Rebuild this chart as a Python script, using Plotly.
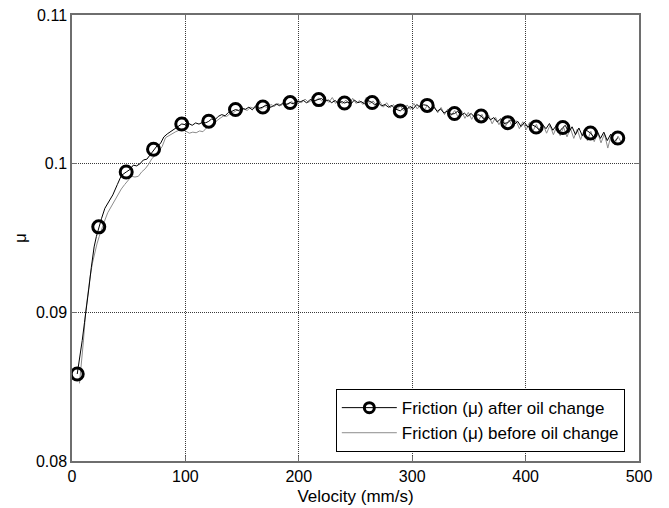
import plotly.graph_objects as go

# Friction coefficient vs. sliding velocity, after the oil change (black, with markers)
after_v = [4.6, 7, 9, 11, 13, 15, 17, 19.5, 21.5, 23.6, 26, 29, 32, 36, 40, 43.5, 47.8,
           51, 54, 57, 60, 63, 66, 69, 71.9, 75, 78, 81, 84, 87, 90, 93, 96.8,
           100, 103, 106, 109, 112, 115, 118, 120.6, 123, 126, 129, 132, 135, 138, 141, 144.2,
           147, 150, 153, 156, 159, 162, 165, 168.3, 171, 174, 177, 180, 183, 186, 189, 192.4,
           195, 198, 201, 204, 207, 210, 213, 217.6, 220, 223, 226, 229, 232, 235, 238, 240.3,
           243, 246, 249, 252, 255, 258, 261, 264.7, 267, 270, 273, 276, 279, 282, 285, 289.5,
           292, 295, 298, 301, 304, 307, 310, 313.2, 316, 319, 322, 325, 328, 331, 334, 337.3,
           340, 343, 346, 349, 352, 355, 358, 360.8, 363, 366, 369, 372, 375, 378, 381, 384.3,
           387, 390, 393, 396, 399, 402, 405, 409.3, 412, 415, 418, 421, 424, 427, 430, 432.8,
           435, 438, 441, 444, 447, 450, 453, 457.2, 460, 463, 466, 469, 472, 475, 478, 481.3]
after_mu = [0.08585, 0.0870, 0.0881, 0.0893, 0.0904, 0.0917, 0.0930, 0.0944, 0.0951, 0.09575,
            0.0963, 0.0970, 0.0974, 0.0979, 0.0986, 0.0992, 0.09944,
            0.09960, 0.09990, 0.09985, 0.10000, 0.10025, 0.10030, 0.10060, 0.10097,
            0.10120, 0.10135, 0.10180, 0.10200, 0.10215, 0.10230, 0.10245, 0.10267,
            0.10262, 0.10270, 0.10258, 0.10274, 0.10266, 0.10278, 0.10275, 0.10285,
            0.10300, 0.10295, 0.10318, 0.10330, 0.10322, 0.10345, 0.10352, 0.10364,
            0.10358, 0.10372, 0.10366, 0.10380, 0.10362, 0.10390, 0.10372, 0.10381,
            0.10394, 0.10378, 0.10385, 0.10402, 0.10390, 0.10408, 0.10398, 0.10411,
            0.10402, 0.10420, 0.10414, 0.10426, 0.10408, 0.10432, 0.10422, 0.10431,
            0.10438, 0.10420, 0.10428, 0.10410, 0.10425, 0.10405, 0.10418, 0.10408,
            0.10415, 0.10402, 0.10428, 0.10410, 0.10418, 0.10402, 0.10425, 0.10411,
            0.10395, 0.10412, 0.10388, 0.10398, 0.10380, 0.10392, 0.10368, 0.10355,
            0.10372, 0.10362, 0.10385, 0.10370, 0.10398, 0.10380, 0.10396, 0.10392,
            0.10370, 0.10382, 0.10352, 0.10368, 0.10340, 0.10355, 0.10332, 0.10337,
            0.10352, 0.10325, 0.10340, 0.10318, 0.10338, 0.10312, 0.10330, 0.10321,
            0.10300, 0.10322, 0.10295, 0.10310, 0.10280, 0.10302, 0.10270, 0.10276,
            0.10295, 0.10262, 0.10285, 0.10250, 0.10278, 0.10245, 0.10265, 0.10247,
            0.10228, 0.10262, 0.10235, 0.10270, 0.10225, 0.10255, 0.10218, 0.10243,
            0.10258, 0.10210, 0.10248, 0.10195, 0.10240, 0.10188, 0.10228, 0.10206,
            0.10180, 0.10222, 0.10170, 0.10212, 0.10155, 0.10198, 0.10148, 0.10173]

# Sampled points shown with circle markers on the "after" curve
marker_v = [4.6, 23.6, 47.8, 71.9, 96.8, 120.6, 144.2, 168.3, 192.4, 217.6, 240.3,
            264.7, 289.5, 313.2, 337.3, 360.8, 384.3, 409.3, 432.8, 457.2, 481.3]
marker_mu = [0.08585, 0.09575, 0.09944, 0.10097, 0.10267, 0.10285, 0.10364, 0.10381,
             0.10411, 0.10431, 0.10408, 0.10411, 0.10355, 0.10392, 0.10337, 0.10321,
             0.10276, 0.10247, 0.10243, 0.10206, 0.10173]

# Friction coefficient before the oil change (grey)
before_v = [6.6, 8, 10, 12, 14, 16, 18, 20, 22, 24, 26,
            28.5, 31.5, 34.5, 37.5, 40.5, 43.5, 46.5, 49.5, 52.5, 55.5, 58.5, 61.5, 64.5,
            67.5, 70.5, 73.5, 76.5, 79.5, 82.5, 85.5, 88.5, 91.5, 94.5, 97.5, 100.5, 103.5,
            106.5, 109.5, 112.5, 115.5, 118.5, 121.5, 124.5, 127.5, 130.5, 133.5, 136.5,
            139.5, 142.5, 145.5, 148.5, 151.5, 154.5, 157.5, 160.5, 163.5, 166.5, 169.5,
            172.5, 175.5, 178.5, 181.5, 184.5, 187.5, 190.5, 193.5, 196.5, 199.5, 202.5,
            205.5, 208.5, 211.5, 214.5, 217.5, 220.5, 223.5, 226.5, 229.5, 232.5, 235.5,
            238.5, 241.5, 244.5, 247.5, 250.5, 253.5, 256.5, 259.5, 262.5, 265.5, 268.5,
            271.5, 274.5, 277.5, 280.5, 283.5, 286.5, 289.5, 292.5, 295.5, 298.5, 301.5,
            304.5, 307.5, 310.5, 313.5, 316.5, 319.5, 322.5, 325.5, 328.5, 331.5, 334.5,
            337.5, 340.5, 343.5, 346.5, 349.5, 352.5, 355.5, 358.5, 361.5, 364.5, 367.5,
            370.5, 373.5, 376.5, 379.5, 382.5, 385.5, 388.5, 391.5, 394.5, 397.5, 400.5,
            403.5, 406.5, 409.5, 412.5, 415.5, 418.5, 421.5, 424.5, 427.5, 430.5, 433.5,
            436.5, 439.5, 442.5, 445.5, 448.5, 451.5, 454.5, 457.5, 460.5, 463.5, 466.5,
            469.5, 472.5, 475.5, 478.5, 481.5, 484.5]
before_mu = [0.08522, 0.0862, 0.0880, 0.0900, 0.0913, 0.0924, 0.0933, 0.0940, 0.0946, 0.0951, 0.0956,
             0.0961, 0.0967, 0.0971, 0.0975, 0.0979, 0.0983, 0.0986, 0.0989, 0.09915, 0.09910,
             0.09915, 0.09945, 0.09965, 0.09995, 0.10035, 0.10055, 0.10085, 0.10115, 0.10175,
             0.10190, 0.10205, 0.10215, 0.10225, 0.10232, 0.10218, 0.10205, 0.10212, 0.10208,
             0.10220, 0.10215, 0.10240, 0.10251, 0.10270, 0.10290, 0.10305, 0.10320, 0.10318,
             0.10338, 0.10345, 0.10360, 0.10350, 0.10368, 0.10358, 0.10380, 0.10372, 0.10390,
             0.10365, 0.10385, 0.10378, 0.10398, 0.10385, 0.10405, 0.10392, 0.10410, 0.10398,
             0.10418, 0.10402, 0.10425, 0.10410, 0.10435, 0.10412, 0.10428, 0.10418, 0.10442,
             0.10420, 0.10436, 0.10412, 0.10445, 0.10405, 0.10430, 0.10402, 0.10428, 0.10398,
             0.10440, 0.10405, 0.10425, 0.10398, 0.10445, 0.10402, 0.10422, 0.10392, 0.10418,
             0.10380, 0.10410, 0.10375, 0.10398, 0.10362, 0.10390, 0.10355, 0.10395, 0.10365,
             0.10405, 0.10368, 0.10400, 0.10360, 0.10392, 0.10350, 0.10385, 0.10342, 0.10378,
             0.10330, 0.10368, 0.10325, 0.10358, 0.10312, 0.10355, 0.10305, 0.10345, 0.10298,
             0.10340, 0.10290, 0.10332, 0.10282, 0.10325, 0.10268, 0.10312, 0.10262, 0.10305,
             0.10255, 0.10295, 0.10245, 0.10290, 0.10235, 0.10282, 0.10228, 0.10278, 0.10220,
             0.10265, 0.10210, 0.10262, 0.10205, 0.10258, 0.10195, 0.10250, 0.10188, 0.10245,
             0.10180, 0.10238, 0.10170, 0.10232, 0.10162, 0.10225, 0.10155, 0.10218, 0.10148,
             0.10210, 0.10140, 0.10200, 0.10105, 0.10195, 0.10128, 0.10185, 0.10140]

x_ticks = [0, 100, 200, 300, 400, 500]
y_ticks = [0.08, 0.09, 0.10, 0.11]
y_tick_text = ["0.08", "0.09", "0.1", "0.11"]

FONT = "Liberation Sans, Arial, Helvetica, sans-serif"

fig = go.Figure()

fig.add_trace(go.Scatter(
    x=before_v, y=before_mu, mode="lines",
    line=dict(color="#8c8c8c", width=1),
    showlegend=False, legendgroup="before",
))
fig.add_trace(go.Scatter(
    x=after_v, y=after_mu, mode="lines",
    line=dict(color="black", width=1),
    showlegend=False, legendgroup="after",
))
fig.add_trace(go.Scatter(
    x=marker_v, y=marker_mu, mode="markers",
    marker=dict(symbol="circle-open", size=12, color="black", line=dict(width=3, color="black")),
    showlegend=False, legendgroup="after",
))
# legend entries
fig.add_trace(go.Scatter(
    x=[None], y=[None], mode="lines+markers",
    name="Friction (\u03bc) after oil change",
    line=dict(color="black", width=1),
    marker=dict(symbol="circle-open", size=10, color="black", line=dict(width=3, color="black")),
    legendgroup="after",
))
fig.add_trace(go.Scatter(
    x=[None], y=[None], mode="lines",
    name="Friction (\u03bc) before oil change",
    line=dict(color="#8c8c8c", width=1),
    legendgroup="before",
))

axis_common = dict(
    showline=True, linecolor="#6e6e6e", linewidth=1.5, mirror="ticks",
    ticks="inside", ticklen=5, tickcolor="#6e6e6e", tickwidth=1,
    showgrid=True, gridcolor="#3a3a3a", gridwidth=1, griddash="1px,1px",
    zeroline=False,
    tickfont=dict(family=FONT, size=16, color="black"),
)

fig.update_xaxes(
    range=[0, 500], tickvals=x_ticks,
    title=dict(text="Velocity (mm/s)", font=dict(family=FONT, size=17, color="black"), standoff=6),
    **axis_common,
)
fig.update_yaxes(
    range=[0.08, 0.11], tickvals=y_ticks, ticktext=y_tick_text,
    title=dict(text="\u03bc", font=dict(family=FONT, size=17, color="black"), standoff=5),
    **axis_common,
)

fig.update_layout(
    width=669, height=508,
    margin=dict(l=72, r=30, t=15, b=47, autoexpand=False),
    paper_bgcolor="white", plot_bgcolor="white",
    font=dict(family=FONT, size=16, color="black"),
    legend=dict(
        x=0.975, y=0.02, xanchor="right", yanchor="bottom",
        bgcolor="white", bordercolor="black", borderwidth=1,
        font=dict(family=FONT, size=17, color="black"),
        traceorder="normal", itemwidth=55,
    ),
)

fig.write_html("out.html")
